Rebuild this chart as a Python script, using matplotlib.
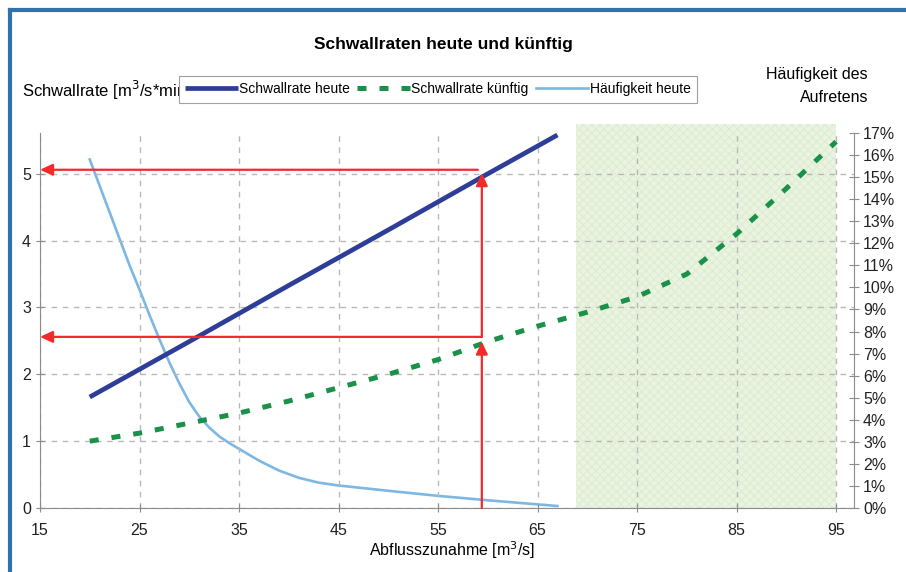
import numpy as np
import matplotlib.pyplot as plt
from matplotlib.lines import Line2D

plt.rcParams['font.family'] = ['Liberation Sans', 'DejaVu Sans']

# data
x_heute = [20, 30, 40, 50, 60, 67]
rate_heute = [1.66, 2.49, 3.33, 4.16, 5.0, 5.58]

x_kuenftig = [20, 25, 30, 35, 40, 45, 50, 55, 60, 65, 70, 75, 80, 85, 90, 95]
rate_kuenftig = [1.0, 1.12, 1.27, 1.42, 1.6, 1.8, 2.0, 2.22, 2.49, 2.72, 2.93, 3.16, 3.5, 4.1, 4.78, 5.48]

x_haeuf = [20, 21, 22, 23, 24, 25, 26, 27, 28, 29, 30, 31, 32, 33, 34, 35, 37, 39, 41, 43, 45,
           50, 55, 60, 67]
haeuf_heute = [15.8, 14.6, 13.4, 12.2, 11.0, 9.9, 8.75, 7.65, 6.6, 5.65, 4.8, 4.15, 3.65, 3.25,
               2.95, 2.68, 2.15, 1.7, 1.37, 1.15, 1.02, 0.78, 0.55, 0.35, 0.09]

# reading help (red arrows)
read_x = 59.4
read_today = 5.06
read_future = 2.56

# shaded zone
zone = (68.9, 95)

x_ticks = [15, 25, 35, 45, 55, 65, 75, 85, 95]
y_ticks = [0, 1, 2, 3, 4, 5]
pct_ticks = list(range(0, 18))

fig = plt.figure(figsize=(9.06, 5.72), dpi=100)
ax = fig.add_axes([40/906, 1-508/572, (854-40)/906, (508-133)/572])
ax2 = ax.twinx()
ax.set_zorder(ax2.get_zorder() + 1)
ax.patch.set_visible(False)

grey = '#8c8c8c'
ax.set_xlim(15, 96.8)
ax.set_ylim(0, 5.61)
ax2.set_ylim(0, 17)

ax.set_xticks(x_ticks)
ax.set_yticks(y_ticks)
ax2.set_yticks(pct_ticks)
ax2.set_yticklabels([f'{p}%' for p in pct_ticks])

ax.grid(True, color='#b8b8b8', linestyle=(0, (4, 4)), lw=1)
ax.set_axisbelow(True)

for a in (ax, ax2):
    for s in a.spines.values():
        s.set_color(grey)
    a.spines['top'].set_visible(False)
ax.spines['right'].set_visible(False)
ax2.spines['left'].set_visible(False)
ax2.spines['bottom'].set_visible(False)

ax.tick_params(axis='both', direction='inout', length=6, color=grey, labelsize=11.5, labelcolor='#222222')
ax.tick_params(axis='x', pad=8)
ax2.tick_params(axis='y', direction='inout', length=7, color=grey, labelsize=11.5, labelcolor='#222222', pad=3)

# shaded zone
ax2.axvspan(zone[0], zone[1], ymin=0, ymax=1.024, facecolor='#ebf4e2', edgecolor='#dfeed2',
            hatch='xxxx', lw=0, zorder=0.2, clip_on=False)

l1, = ax.plot(x_heute, rate_heute, color='#2e3d98', lw=3.4, solid_capstyle='butt', zorder=3)
l2, = ax.plot(x_kuenftig, rate_kuenftig, color='#1a9148', lw=3.6, dashes=(1.8, 2.6),
              dash_capstyle='butt', zorder=3)
l3, = ax.plot([], [], color='#7db7e4', lw=1.9)
ax2.plot(x_haeuf, haeuf_heute, color='#7db7e4', lw=1.9, zorder=2)

# red arrows
red = '#f42a2a'
arr = dict(arrowstyle='-|>,head_length=0.75,head_width=0.35', color=red, lw=1.6, shrinkA=0, shrinkB=0)
ax.annotate('', xy=(read_x, 2.49), xytext=(read_x, 0), arrowprops=arr, zorder=5, annotation_clip=False)
ax.annotate('', xy=(read_x, 5.01), xytext=(read_x, read_future), arrowprops=arr, zorder=5)
ax.annotate('', xy=(15, read_future), xytext=(read_x, read_future), arrowprops=arr, zorder=5,
            annotation_clip=False)
ax.annotate('', xy=(15, read_today), xytext=(59.0, read_today), arrowprops=arr, zorder=5,
            annotation_clip=False)

# texts
fig.text(443/906, 1-45/572, 'Schwallraten heute und künftig', ha='center', va='center',
         fontsize=12.5, fontweight='bold')
fig.text(22/906, 1-90/572, 'Schwallrate [m$^3$/s*min]', ha='left', va='center', fontsize=12)
fig.text(868/906, 1-75/572, 'Häufigkeit des', ha='right', va='center', fontsize=11.5)
fig.text(868/906, 1-97/572, 'Aufretens', ha='right', va='center', fontsize=11.5)
fig.text(452/906, 1-550/572, 'Abflusszunahme [m$^3$/s]', ha='center', va='center', fontsize=11.5)

leg = fig.legend([l1, l2, l3], ['Schwallrate heute', 'Schwallrate künftig', 'Häufigkeit heute'],
                 loc='upper left', bbox_to_anchor=(179/906, 1-76/572), ncol=3, fontsize=10,
                 frameon=True, fancybox=False, framealpha=1, edgecolor='#a0a0a0',
                 handlelength=3.8, handletextpad=0.1, columnspacing=0.5, borderpad=0.45,
                 borderaxespad=0)
leg.set_zorder(10)
leg.get_frame().set_linewidth(0.8)

# outer frame
fig.add_artist(Line2D([10/906, 10/906], [0, 1-10/572], color='#2f72b0', lw=3))
fig.add_artist(Line2D([10/906, 1], [1-10/572, 1-10/572], color='#2f72b0', lw=3))

fig.savefig('out.png', dpi=100)
